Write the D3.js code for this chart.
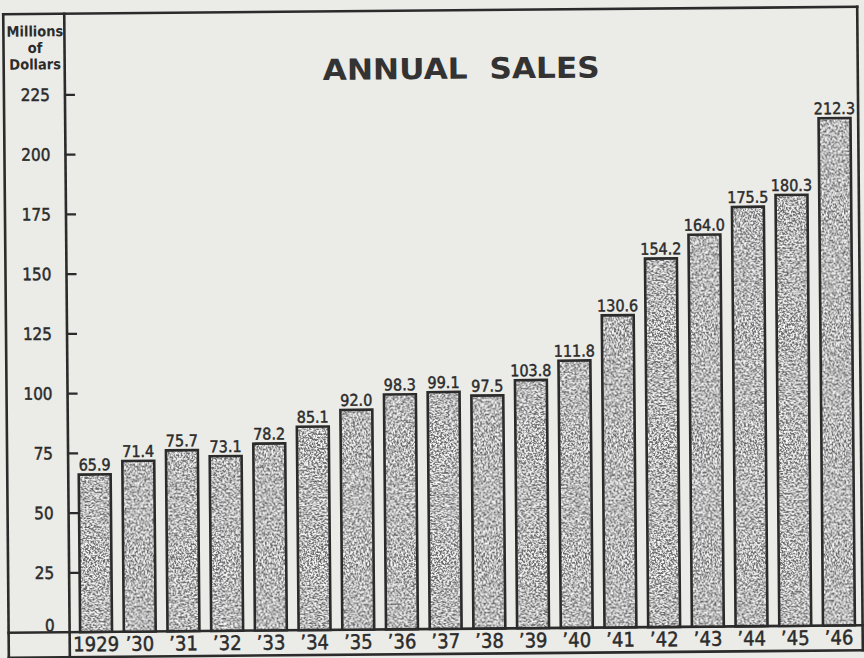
<!DOCTYPE html>
<html>
<head>
<meta charset="utf-8">
<script src="https://cdn.jsdelivr.net/npm/d3@7"></script>
<style>
  body { margin: 0; background: #ebebe7; }
  svg { display: block; }
  .tick text { fill: #2b2b2b; stroke: #2b2b2b; stroke-width: 0.45px; }
</style>
</head>
<body>
<svg id="chart" width="864" height="658"></svg>
<script>
var years = ['1929', '\u201930', '\u201931', '\u201932', '\u201933', '\u201934', '\u201935', '\u201936', '\u201937',
  '\u201938', '\u201939', '\u201940', '\u201941', '\u201942', '\u201943', '\u201944', '\u201945', '\u201946'];
var sales = [65.9, 71.4, 75.7, 73.1, 78.2, 85.1, 92.0, 98.3, 99.1, 97.5, 103.8, 111.8, 130.6, 154.2, 164.0, 175.5, 180.3, 212.3];
var yTicks = [0, 25, 50, 75, 100, 125, 150, 175, 200, 225];
var unitLines = ['Millions', 'of', 'Dollars'];
var title = 'ANNUAL  SALES';

var ink = '#2b2b2b';
var frame = { left: 6, axis: 67, right: 860, top: 10.5, base: 629, bottom: 654 };

var svg = d3.select('#chart');

// speckled print texture for the bars
var defs = svg.append('defs');
var grain = defs.append('filter')
  .attr('id', 'grain')
  .attr('x', 0).attr('y', 0).attr('width', 1).attr('height', 1);
grain.append('feTurbulence')
  .attr('type', 'fractalNoise')
  .attr('baseFrequency', 0.55)
  .attr('numOctaves', 3)
  .attr('seed', 7)
  .attr('result', 'noise');
grain.append('feColorMatrix')
  .attr('in', 'noise')
  .attr('type', 'matrix')
  .attr('values', '3.8 0 0 0 -1.5  3.8 0 0 0 -1.5  3.8 0 0 0 -1.5  0 0 0 0 1')
  .attr('result', 'grey');
var ct = grain.append('feComponentTransfer').attr('in', 'grey').attr('result', 'tone');
['feFuncR', 'feFuncG', 'feFuncB'].forEach(function(f) {
  ct.append(f).attr('type', 'linear').attr('slope', 0.82).attr('intercept', 0.14);
});
grain.append('feComposite')
  .attr('in', 'tone')
  .attr('in2', 'SourceGraphic')
  .attr('operator', 'in');

// the scan is slightly tilted
var g = svg.append('g')
  .attr('transform', 'rotate(-0.5, 432, 330)');

var x = d3.scaleBand()
  .domain(years)
  .range([71.6, 858.2])
  .paddingInner(0.27)
  .paddingOuter(0.135);

var y = d3.scaleLinear()
  .domain([0, 225])
  .range([frame.base, frame.base - 225 * 2.39]);

// frame
var lines = [
  [frame.left, frame.top, frame.right, frame.top],
  [frame.left, frame.top, frame.left, frame.bottom],
  [frame.axis, frame.top, frame.axis, frame.bottom],
  [frame.right, frame.top, frame.right, frame.bottom],
  [frame.left, frame.base, frame.right, frame.base],
  [frame.left, frame.bottom, frame.right, frame.bottom]
];
g.selectAll('line.frame')
  .data(lines)
  .enter()
  .append('line')
  .attr('class', 'frame')
  .attr('x1', function(d) { return d[0]; })
  .attr('y1', function(d) { return d[1]; })
  .attr('x2', function(d) { return d[2]; })
  .attr('y2', function(d) { return d[3]; })
  .attr('stroke', ink)
  .attr('stroke-width', 2.6)
  .attr('stroke-linecap', 'square');

// y axis
var yAxis = g.append('g')
  .attr('transform', 'translate(' + frame.axis + ',0)')
  .call(d3.axisLeft(y).tickValues(yTicks).tickSize(-10).tickPadding(15));
yAxis.select('.domain').remove();
yAxis.selectAll('.tick line')
  .attr('stroke', ink)
  .attr('stroke-width', 2.2);
yAxis.selectAll('.tick text')
  .style('font-family', '"DejaVu Sans Condensed", "DejaVu Sans", sans-serif')
  .style('font-size', '17px')
  .attr('dy', function(d) { return d === 0 ? '-0.08em' : '0.34em'; });
yAxis.selectAll('.tick')
  .filter(function(d) { return d === 0; })
  .select('line')
  .remove();

// x axis labels
var xAxis = g.append('g')
  .attr('transform', 'translate(0,' + frame.base + ')')
  .call(d3.axisBottom(x).tickSize(0).tickPadding(5));
xAxis.select('.domain').remove();
xAxis.selectAll('.tick text')
  .style('font-family', '"DejaVu Sans Condensed", "DejaVu Sans", sans-serif')
  .style('font-size', '20px');

// unit label
g.append('text')
  .attr('x', (frame.left + frame.axis) / 2 + 1)
  .attr('y', 33)
  .attr('text-anchor', 'middle')
  .style('font-family', '"DejaVu Sans Condensed", "DejaVu Sans", sans-serif')
  .style('font-weight', 'bold')
  .style('font-size', '14.5px')
  .attr('fill', ink)
  .selectAll('tspan')
  .data(unitLines)
  .enter()
  .append('tspan')
  .attr('x', (frame.left + frame.axis) / 2 + 1)
  .attr('dy', function(d, i) { return i === 0 ? 0 : 16.5; })
  .text(function(d) { return d; });

// title
g.append('text')
  .attr('x', 325)
  .attr('y', 79)
  .attr('textLength', 277)
  .attr('lengthAdjust', 'spacingAndGlyphs')
  .style('font-family', '"DejaVu Sans", sans-serif')
  .style('font-weight', 'bold')
  .style('font-size', '29px')
  .style('white-space', 'pre')
  .attr('fill', '#333')
  .text(title);

// bars
var bars = g.selectAll('g.bar')
  .data(sales)
  .enter()
  .append('g')
  .attr('class', 'bar');

bars.append('rect')
  .attr('x', function(d, i) { return x(years[i]); })
  .attr('y', function(d) { return y(d); })
  .attr('width', x.bandwidth())
  .attr('height', function(d) { return y(0) - y(d); })
  .attr('fill', '#888')
  .attr('filter', 'url(#grain)');

bars.append('rect')
  .attr('x', function(d, i) { return x(years[i]); })
  .attr('y', function(d) { return y(d); })
  .attr('width', x.bandwidth())
  .attr('height', function(d) { return y(0) - y(d); })
  .attr('fill', 'none')
  .attr('stroke', ink)
  .attr('stroke-width', 2.6);

bars.append('text')
  .attr('x', function(d, i) { return x(years[i]) + x.bandwidth() / 2; })
  .attr('y', function(d) { return y(d) - 4; })
  .attr('text-anchor', 'middle')
  .style('font-family', '"DejaVu Sans Condensed", "DejaVu Sans", sans-serif')
  .style('font-size', '16px')
  .style('stroke', ink)
  .style('stroke-width', '0.45px')
  .attr('fill', ink)
  .text(function(d) { return d.toFixed(1); });
</script>
</body>
</html>
